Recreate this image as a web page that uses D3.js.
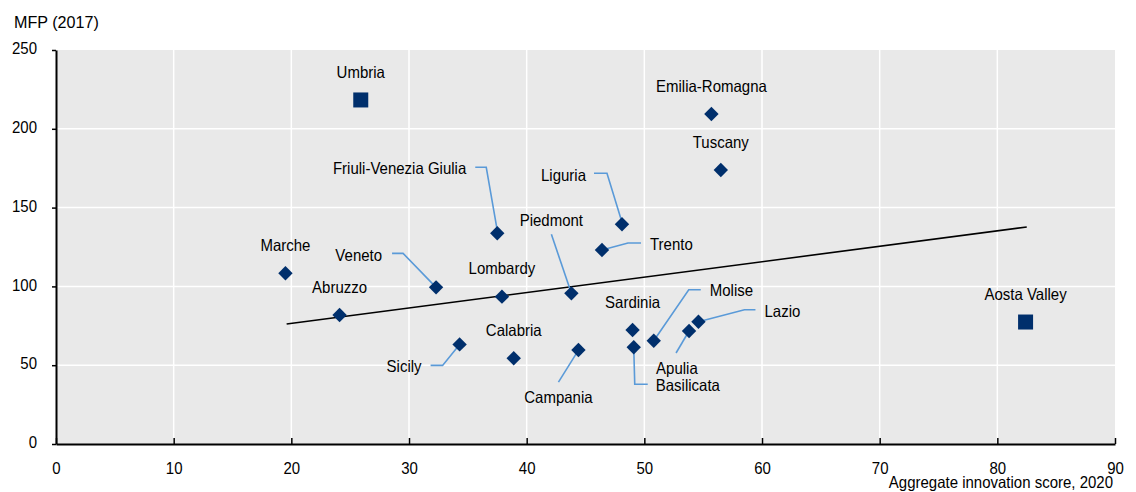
<!DOCTYPE html>
<html>
<head>
<meta charset="utf-8">
<script src="https://cdn.jsdelivr.net/npm/d3@7"></script>
<style>
	body { margin: 0; background: #fff; }
	text { font-family: "Liberation Sans", Arial, sans-serif; font-size: 16.3px; fill: #000; }
</style>
</head>
<body>
<svg id="chart" width="1136" height="492"></svg>
<script>
// regions, innovation score (x) and MFP (y)
const regions = ["Umbria", "Emilia-Romagna", "Tuscany", "Friuli-Venezia Giulia", "Liguria", "Trento",
	"Piedmont", "Marche", "Veneto", "Lombardy", "Abruzzo", "Sicily", "Calabria", "Campania",
	"Sardinia", "Basilicata", "Molise", "Apulia", "Lazio", "Aosta Valley"];
const innovation = [25.9, 55.7, 56.5, 37.5, 48.1, 46.4, 43.8, 19.5, 32.3, 37.9, 24.1, 34.3, 38.9, 44.4,
	49.0, 49.1, 50.8, 53.8, 54.6, 82.4];
const mfp = [218.3, 209.4, 173.9, 133.7, 139.4, 123.1, 95.6, 108.3, 99.4, 93.5, 81.9, 63.2, 54.4, 59.6,
	72.3, 61.4, 65.5, 71.7, 77.6, 77.4];
const squareRegions = ["Umbria", "Aosta Valley"];

// fitted trend line end points
const trendX = [19.6, 82.5];
const trendY = [76.1, 137.7];

const xTicks = [0, 10, 20, 30, 40, 50, 60, 70, 80, 90];
const yTicks = [0, 50, 100, 150, 200, 250];

// label placement (pixel offsets from the marker) and leader lines
const labelLayout = {
	"Friuli-Venezia Giulia": { dx: -31, dy: -65, anchor: "end", leader: [[-22, -66], [-11, -66], [0, -3]] },
	"Liguria": { dx: -36, dy: -49, anchor: "end", leader: [[-28, -51], [-15, -51], [0, -2]] },
	"Trento": { dx: 48, dy: -6, anchor: "start", leader: [[39, -7], [26, -7], [0, 0]] },
	"Piedmont": { dx: -20, dy: -73, anchor: "middle", leader: [[-20, -59], [0, 0]] },
	"Veneto": { dx: -54, dy: -32, anchor: "end", leader: [[-44, -34], [-33, -34], [0, 0]] },
	"Sicily": { dx: -38, dy: 22, anchor: "end", leader: [[-29, 21], [-17, 21], [0, 0]] },
	"Campania": { dx: -20, dy: 47, anchor: "middle", leader: [[-20, 32], [0, 0]] },
	"Basilicata": { dx: 22, dy: 38, anchor: "start", leader: [[0, 0], [1, 37], [14, 37]] },
	"Apulia": { dx: -33, dy: 37, anchor: "start", leader: [[-13, 22], [0, 0]] },
	"Molise": { dx: 56, dy: -50, anchor: "start", leader: [[47, -51], [35, -51], [0, 0]] },
	"Lazio": { dx: 66, dy: -10, anchor: "start", leader: [[57, -12], [46, -12], [0, 0]] }
};

const squeeze = 0.92; // the source font is a bit narrower than Liberation Sans

const svg = d3.select("#chart");
const plotLeft = 56, plotRight = 1115, plotTop = 50, plotBottom = 444;

const x = d3.scaleLinear().domain([0, 90]).range([plotLeft, plotRight]);
const y = d3.scaleLinear().domain([0, 250]).range([plotBottom, plotTop]);

const data = regions.map((name, i) => ({ name, x: innovation[i], y: mfp[i] }));

// place a text at (px, py) horizontally squeezed
function placeText(sel, px, py, sx = squeeze) {
	sel.attr("transform", (d, i) => `translate(${typeof px === "function" ? px(d, i) : px},${typeof py === "function" ? py(d, i) : py}) scale(${sx},1)`);
}

// plot background
svg.append("rect")
	.attr("x", plotLeft).attr("y", plotTop)
	.attr("width", plotRight - plotLeft).attr("height", plotBottom - plotTop)
	.attr("fill", "#e9e9e9");

// gridlines
svg.append("g").selectAll("line").data(xTicks.slice(1, -1)).join("line")
	.attr("x1", d => x(d)).attr("x2", d => x(d))
	.attr("y1", plotTop).attr("y2", plotBottom)
	.attr("stroke", "#fff").attr("stroke-width", 1.5);
svg.append("g").selectAll("line").data(yTicks.slice(1, -1)).join("line")
	.attr("x1", plotLeft).attr("x2", plotRight)
	.attr("y1", d => y(d)).attr("y2", d => y(d))
	.attr("stroke", "#fff").attr("stroke-width", 1.5);

// axes
const xAxis = svg.append("g")
	.attr("transform", `translate(0,${plotBottom})`)
	.call(d3.axisBottom(x).tickValues(xTicks).tickSizeInner(-6).tickSizeOuter(0));
const yAxis = svg.append("g")
	.attr("transform", `translate(${plotLeft},0)`)
	.call(d3.axisLeft(y).tickValues(yTicks).tickSize(4).tickSizeOuter(0));
[xAxis, yAxis].forEach(a => {
	a.select(".domain").attr("stroke", "#000").attr("stroke-width", 2);
	a.selectAll(".tick line").attr("stroke", "#000").attr("stroke-width", 1.5);
	a.selectAll(".tick text").style("font-size", "16.3px").attr("fill", "#000")
		.style("font-family", '"Liberation Sans", Arial, sans-serif')
		.attr("x", null).attr("y", null).attr("dy", null)
		.attr("dominant-baseline", "central");
});
placeText(xAxis.selectAll(".tick text"), 0, 24);
placeText(yAxis.selectAll(".tick text"), -19, -2);

// axis titles
svg.append("text").text("MFP (2017)").call(placeText, 14, 28, 0.99);
svg.append("text").attr("text-anchor", "end")
	.text("Aggregate innovation score, 2020").call(placeText, 1113, 488);

// trend line
svg.append("line")
	.attr("x1", x(trendX[0])).attr("y1", y(trendY[0]))
	.attr("x2", x(trendX[1])).attr("y2", y(trendY[1]))
	.attr("stroke", "#000").attr("stroke-width", 1.6);

// leader lines
svg.append("g").selectAll("polyline")
	.data(data.filter(d => labelLayout[d.name]))
	.join("polyline")
	.attr("points", d => labelLayout[d.name].leader.map(p => [x(d.x) + p[0], y(d.y) + p[1]].join(",")).join(" "))
	.attr("fill", "none")
	.attr("stroke", "#5a9ad8")
	.attr("stroke-width", 1.6);

// markers
const markers = svg.append("g");
markers.selectAll("rect.sq")
	.data(data.filter(d => squareRegions.includes(d.name)))
	.join("rect").attr("class", "sq")
	.attr("x", d => x(d.x) - 7.5).attr("y", d => y(d.y) - 7.5)
	.attr("width", 15).attr("height", 15)
	.attr("fill", "#002f6c");
markers.selectAll("path.dm")
	.data(data.filter(d => !squareRegions.includes(d.name)))
	.join("path").attr("class", "dm")
	.attr("d", d => {
		const cx = x(d.x), cy = y(d.y), r = 7.2;
		return `M${cx},${cy - r}L${cx + r},${cy}L${cx},${cy + r}L${cx - r},${cy}Z`;
	})
	.attr("fill", "#002f6c");

// labels
svg.append("g").selectAll("text")
	.data(data)
	.join("text")
	.attr("text-anchor", d => labelLayout[d.name] ? labelLayout[d.name].anchor : "middle")
	.attr("dominant-baseline", "central")
	.text(d => d.name)
	.call(placeText,
		d => x(d.x) + (labelLayout[d.name] ? labelLayout[d.name].dx : 0),
		d => y(d.y) + (labelLayout[d.name] ? labelLayout[d.name].dy : -28));
</script>
</body>
</html>
